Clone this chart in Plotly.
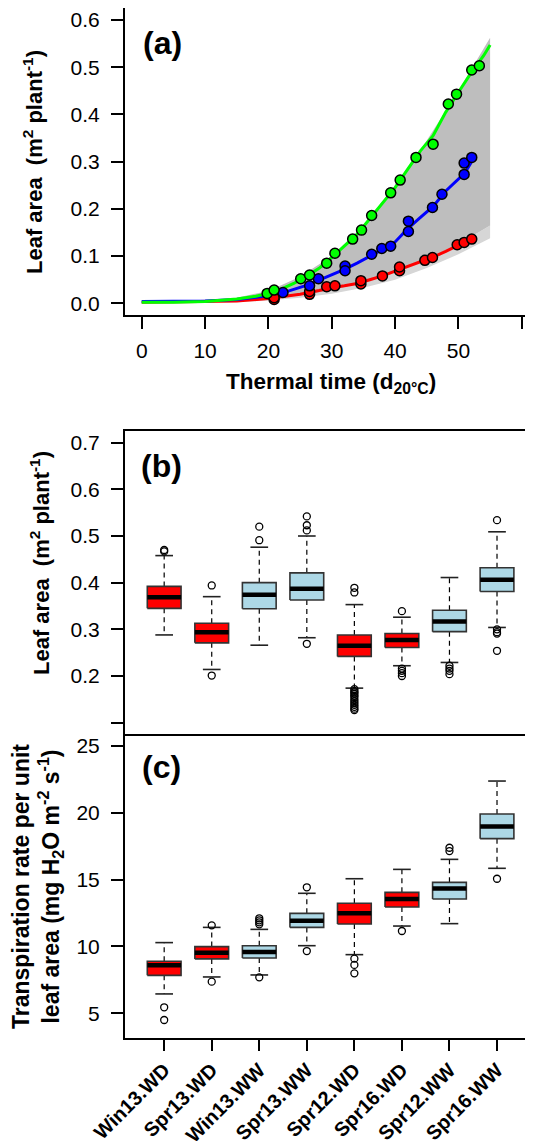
import plotly.graph_objects as go

# page body has an 8px margin, so the figure is drawn 8px smaller and shifted
SCREEN_W, SCREEN_H = 533, 1141
OFF = 8
W, H = SCREEN_W - OFF, SCREEN_H - OFF
FONT = "Liberation Sans"

# ---------------- Panel (a) data ----------------
env_t = [0, 10, 15, 20, 25, 30, 35, 40, 45, 50, 55]
env_upper = [0.004, 0.006, 0.012, 0.026, 0.056, 0.100, 0.165, 0.250, 0.345, 0.450, 0.5625]
env_mid = [0.0, 0.001, 0.003, 0.009, 0.016, 0.027, 0.043, 0.065, 0.092, 0.125, 0.165]
env_lower = [0.0, 0.001, 0.002, 0.006, 0.012, 0.020, 0.033, 0.050, 0.075, 0.104, 0.138]

green_line_t = [0, 5, 10, 15, 18, 20, 22, 24, 26, 28, 30, 32, 34, 36, 38, 40, 42, 44, 46, 48, 50, 52, 54, 55]
green_line_v = [0.002, 0.002, 0.004, 0.009, 0.015, 0.021, 0.030, 0.042, 0.057, 0.074, 0.097, 0.121, 0.146,
                0.179, 0.211, 0.245, 0.284, 0.323, 0.355, 0.405, 0.447, 0.488, 0.525, 0.547]
blue_line_t = [0, 5, 10, 15, 18, 20, 22, 24, 26, 28, 30, 32, 34, 36, 38, 40, 42, 44, 46, 48, 50, 51, 52, 52.4]
blue_line_v = [0.004, 0.004, 0.005, 0.008, 0.012, 0.016, 0.021, 0.029, 0.038, 0.049, 0.060, 0.072, 0.085,
               0.099, 0.114, 0.130, 0.158, 0.182, 0.205, 0.238, 0.262, 0.276, 0.298, 0.310]
red_line_t = [0, 10, 15, 20, 22, 25, 28, 30, 32, 34, 36, 38, 40, 42, 44, 46, 48, 50, 52, 52.4]
red_line_v = [0.002, 0.003, 0.005, 0.010, 0.014, 0.019, 0.027, 0.033, 0.037, 0.042, 0.050, 0.058, 0.068,
              0.078, 0.088, 0.098, 0.110, 0.123, 0.134, 0.138]

green_pt_t = [19.8, 20.9, 25.1, 26.5, 29.2, 30.5, 33.3, 34.7, 36.3, 39.3, 40.8, 43.3, 46.0, 48.4, 49.7, 52.1, 53.3]
green_pt_v = [0.021, 0.028, 0.052, 0.060, 0.085, 0.106, 0.136, 0.155, 0.186, 0.234, 0.261, 0.309, 0.337,
              0.422, 0.443, 0.494, 0.503]
blue_pt_t = [22.3, 26.5, 27.9, 32.1, 32.1, 36.3, 37.9, 39.3, 42.1, 42.1, 45.9, 47.4, 50.9, 50.9, 52.1]
blue_pt_v = [0.023, 0.037, 0.052, 0.079, 0.069, 0.104, 0.116, 0.121, 0.174, 0.152, 0.203, 0.231, 0.273,
             0.297, 0.309]
red_pt_t = [20.9, 20.9, 26.5, 26.5, 29.2, 30.5, 34.6, 34.6, 38.0, 40.7, 40.7, 44.7, 45.9, 49.8, 50.9, 52.1]
red_pt_v = [0.008, 0.012, 0.019, 0.025, 0.035, 0.037, 0.041, 0.048, 0.058, 0.069, 0.077, 0.091, 0.097,
            0.124, 0.129, 0.136]

x_ticks_a = [0, 10, 20, 30, 40, 50, 60]
y_ticks_a = [0.0, 0.1, 0.2, 0.3, 0.4, 0.5, 0.6]

# ---------------- Panels (b), (c) data ----------------
categories = ["Win13.WD", "Spr13.WD", "Win13.WW", "Spr13.WW", "Spr12.WD", "Spr16.WD", "Spr12.WW", "Spr16.WW"]
treatment = ["WD", "WD", "WW", "WW", "WD", "WD", "WW", "WW"]

b_low = [0.288, 0.214, 0.266, 0.282, 0.174, 0.222, 0.229, 0.304]
b_q1 = [0.345, 0.271, 0.344, 0.363, 0.242, 0.261, 0.295, 0.381]
b_med = [0.369, 0.294, 0.374, 0.387, 0.265, 0.277, 0.317, 0.406]
b_q3 = [0.392, 0.313, 0.400, 0.421, 0.288, 0.291, 0.341, 0.432]
b_high = [0.458, 0.370, 0.476, 0.500, 0.353, 0.326, 0.411, 0.509]
b_out = [
    [0.467, 0.470],
    [0.394, 0.201],
    [0.520, 0.491],
    [0.542, 0.523, 0.512, 0.269],
    [0.389, 0.379, 0.172, 0.168, 0.165, 0.162, 0.158, 0.155, 0.150, 0.146, 0.142, 0.138, 0.134, 0.130, 0.127],
    [0.339, 0.216, 0.211, 0.206, 0.200],
    [0.222, 0.216, 0.211, 0.204],
    [0.534, 0.300, 0.294, 0.291, 0.254],
]
y_ticks_b = [0.1, 0.2, 0.3, 0.4, 0.5, 0.6, 0.7]
y_ticklabels_b = ["", "0.2", "0.3", "0.4", "0.5", "0.6", "0.7"]

c_low = [6.45, 7.72, 7.87, 10.06, 9.39, 11.53, 11.71, 15.85]
c_q1 = [7.84, 9.07, 9.14, 11.43, 11.68, 12.96, 13.55, 18.07]
c_med = [8.59, 9.54, 9.59, 11.93, 12.48, 13.55, 14.33, 18.97]
c_q3 = [8.89, 9.99, 10.06, 12.48, 13.23, 14.05, 14.80, 19.91]
c_high = [10.29, 11.43, 11.28, 13.98, 15.07, 15.77, 16.52, 22.38]
c_out = [
    [5.45, 4.50],
    [11.58, 7.37],
    [12.11, 11.96, 11.81, 11.66, 7.69],
    [14.43, 9.66],
    [9.09, 8.62, 7.99],
    [11.16],
    [17.39, 17.14],
    [15.07],
]
y_ticks_c = [5, 10, 15, 20, 25]

fill_colors = {"WD": "#FF0000", "WW": "#ADD8E6"}

fig = go.Figure()

# ---------- Panel (a) ----------
fig.add_trace(go.Scatter(x=env_t, y=env_lower, mode="lines", line=dict(width=0, color="#D9D9D9"),
                         xaxis="x", yaxis="y", hoverinfo="skip"))
fig.add_trace(go.Scatter(x=env_t, y=env_mid, mode="lines", line=dict(width=0, color="#D9D9D9"),
                         fill="tonexty", fillcolor="#D6D6D6", xaxis="x", yaxis="y", hoverinfo="skip"))
fig.add_trace(go.Scatter(x=env_t, y=env_upper, mode="lines", line=dict(width=0, color="#BEBEBE"),
                         fill="tonexty", fillcolor="#BEBEBE", xaxis="x", yaxis="y", hoverinfo="skip"))

for lt, lv, col in [(red_line_t, red_line_v, "#FF0000"),
                    (blue_line_t, blue_line_v, "#0000FF"),
                    (green_line_t, green_line_v, "#00FF00")]:
    fig.add_trace(go.Scatter(x=lt, y=lv, mode="lines", line=dict(color=col, width=3),
                             xaxis="x", yaxis="y"))

for pt, pv, col in [(red_pt_t, red_pt_v, "#FF0000"),
                    (blue_pt_t, blue_pt_v, "#0000FF"),
                    (green_pt_t, green_pt_v, "#00FF00")]:
    fig.add_trace(go.Scatter(x=pt, y=pv, mode="markers",
                             marker=dict(color=col, size=10, line=dict(color="black", width=1.5)),
                             xaxis="x", yaxis="y"))

# ---------- Boxplots ----------
HALF = 0.355
CAP = 0.186


def add_boxes(low, q1, med, q3, high, outs, xa, ya):
    n = len(categories)
    pos = list(range(1, n + 1))
    wx, wy = [], []
    for i in range(n):
        wx += [pos[i], pos[i], None, pos[i], pos[i], None]
        wy += [q1[i], low[i], None, q3[i], high[i], None]
    fig.add_trace(go.Scatter(x=wx, y=wy, mode="lines", line=dict(color="black", width=1.2, dash="5px,4px"),
                             xaxis=xa, yaxis=ya))
    sx, sy = [], []
    for i in range(n):
        sx += [pos[i] - CAP, pos[i] + CAP, None, pos[i] - CAP, pos[i] + CAP, None]
        sy += [low[i], low[i], None, high[i], high[i], None]
    fig.add_trace(go.Scatter(x=sx, y=sy, mode="lines", line=dict(color="#222222", width=1.6),
                             xaxis=xa, yaxis=ya))
    for tr, colr in fill_colors.items():
        bx, by = [], []
        for i in range(n):
            if treatment[i] != tr:
                continue
            bx += [pos[i] - HALF, pos[i] + HALF, pos[i] + HALF, pos[i] - HALF, pos[i] - HALF, None]
            by += [q1[i], q1[i], q3[i], q3[i], q1[i], None]
        fig.add_trace(go.Scatter(x=bx, y=by, mode="lines", fill="toself", fillcolor=colr,
                                 line=dict(color="#333333", width=1.6), xaxis=xa, yaxis=ya))
    mx, my = [], []
    for i in range(n):
        mx += [pos[i] - HALF, pos[i] + HALF, None]
        my += [med[i], med[i], None]
    fig.add_trace(go.Scatter(x=mx, y=my, mode="lines", line=dict(color="black", width=4.5),
                             xaxis=xa, yaxis=ya))
    ox, oy = [], []
    for i in range(n):
        ox += [pos[i]] * len(outs[i])
        oy += outs[i]
    fig.add_trace(go.Scatter(x=ox, y=oy, mode="markers",
                             marker=dict(symbol="circle-open", size=7, color="black", line=dict(width=1.3)),
                             xaxis=xa, yaxis=ya))


add_boxes(b_low, b_q1, b_med, b_q3, b_high, b_out, "x2", "y2")
add_boxes(c_low, c_q1, c_med, c_q3, c_high, c_out, "x3", "y3")


def px(s):
    return min(max((s - OFF) / W, 0), 1)


def py(s):
    return min(max(1 - (s - OFF) / H, 0), 1)


X0 = px(125)
tickfont = dict(family=FONT, size=21, color="black")
common_ax = dict(showgrid=False, zeroline=False, showline=True, linecolor="black", linewidth=2,
                 ticks="outside", ticklen=12, tickwidth=1.5, tickcolor="black", tickfont=tickfont,
                 automargin=False)
no_ticks_ax = {k: v for k, v in common_ax.items() if k != "ticks"}

fig.update_layout(
    width=W, height=H, margin=dict(l=0, r=0, t=0, b=0),
    paper_bgcolor="white", plot_bgcolor="white", showlegend=False,
    xaxis=dict(domain=[X0, 1], range=[-2.64, 61.77], anchor="y", mirror=True,
               tickvals=x_ticks_a, ticktext=[str(v) for v in x_ticks_a], ticklabelstandoff=4, **common_ax),
    yaxis=dict(domain=[py(314.5), py(8)], range=[-0.0237, 0.6254], anchor="x",
               tickvals=y_ticks_a, ticktext=["%.1f" % v for v in y_ticks_a], ticklabelstandoff=7, **common_ax),
    xaxis2=dict(domain=[X0, 1], range=[0.176, 8.757], anchor="y2", mirror=True,
                showticklabels=False, ticks="", **no_ticks_ax),
    yaxis2=dict(domain=[py(734), py(431)], range=[0.0757, 0.725], anchor="x2",
                tickvals=y_ticks_b, ticktext=y_ticklabels_b, ticklabelstandoff=7, **common_ax),
    xaxis3=dict(domain=[X0, 1], range=[0.176, 8.757], anchor="y3", mirror=False,
                tickvals=list(range(1, len(categories) + 1)),
                ticktext=["<b>%s</b>" % c for c in categories], tickangle=-45, ticklabelstandoff=0,
                **common_ax),
    yaxis3=dict(domain=[py(1037.5), py(734)], range=[3.19, 25.9], anchor="x3",
                tickvals=y_ticks_c, ticktext=[str(v) for v in y_ticks_c], ticklabelstandoff=7, **common_ax),
)
fig.layout.xaxis3.ticklen = 11
fig.layout.xaxis3.tickwidth = 2
fig.layout.xaxis3.tickfont = dict(family=FONT, size=20, color="black")


def ann(text, xs, ys, size, angle=0, bold=True):
    fig.add_annotation(text=("<b>%s</b>" % text) if bold else text, x=px(xs), y=py(ys),
                       xref="paper", yref="paper", showarrow=False, textangle=angle,
                       font=dict(family=FONT, size=size, color="black"),
                       xanchor="center", yanchor="middle")


ann("(a)", 162, 42.5, 32)
ann("(b)", 161.5, 466, 32)
ann("(c)", 161.5, 767, 32)
ann("Thermal time (d<sub>20°C</sub>)", 331, 383, 22.5)
ann("Leaf area  (m<sup>2</sup> plant<sup>-1</sup>)", 33, 162, 22, angle=-90)
ann("Leaf area  (m<sup>2</sup> plant<sup>-1</sup>)", 40, 563, 22, angle=-90)
ann("Transpiration rate per unit<br>leaf area (mg H<sub>2</sub>O m<sup>-2</sup> s<sup>-1</sup>)",
    37, 887, 23, angle=-90)

fig.write_html("out.html")
